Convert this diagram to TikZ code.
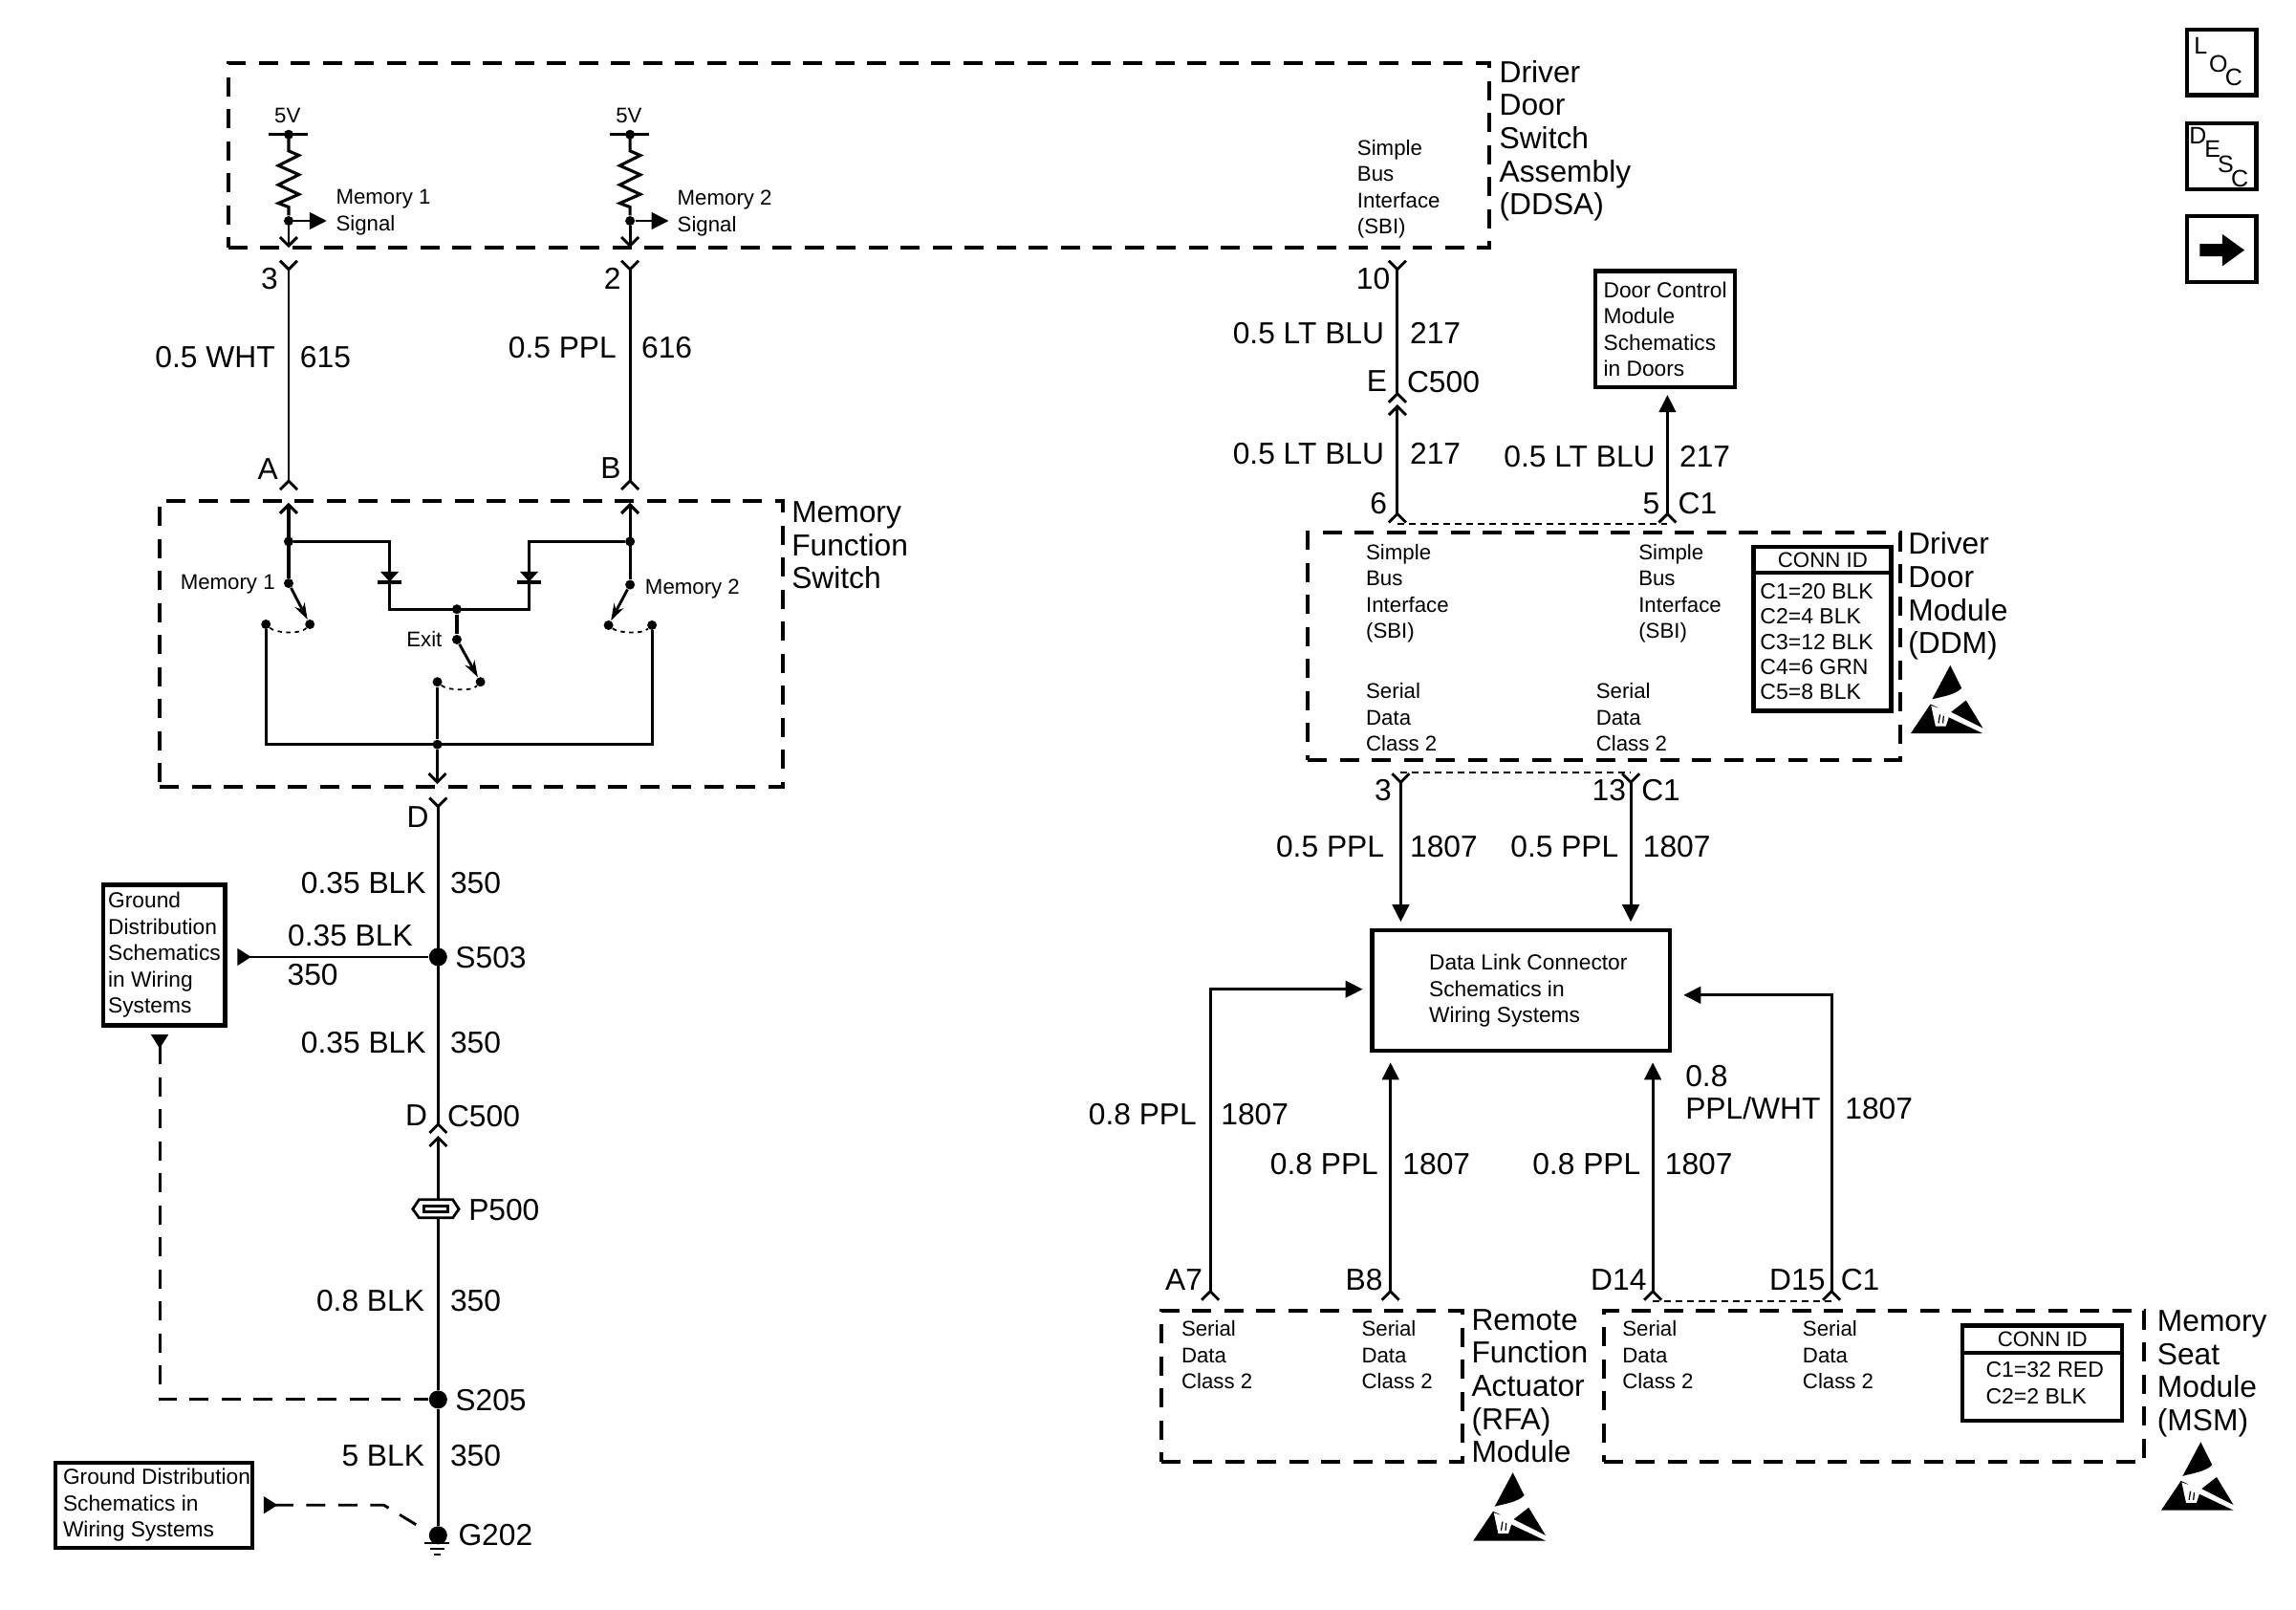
\documentclass[tikz,border=0pt]{standalone}
\usepackage{fontspec}
\setmainfont{Liberation Sans}
\usetikzlibrary{arrows.meta}
\newcommand{\ux}{0.6131pt}
\begin{document}
\begin{tikzpicture}[x=0.6131pt,y=-0.6131pt]
\tikzstyle{lien}=[line width=1.15pt,line join=miter]
\tikzstyle{gras}=[line width=1.25pt,line join=miter]
\tikzstyle{tirets}=[line width=1.15pt,dash pattern=on 8pt off 5.4pt]
\tikzstyle{fin}=[line width=0.7pt,dash pattern=on 2.8pt off 2pt]
\tikzstyle{pointille}=[line width=0.7pt,dash pattern=on 1.8pt off 1.8pt]
\tikzset{fourche/.tip={Straight Barb[reversed,length=3.6pt,width=7.2pt]},
tige/.tip={Straight Barb[length=3.6pt,width=7.2pt]},
plein/.tip={Triangle[length=7.2pt,width=7pt]},
plat/.tip={Triangle[reversed,length=5.8pt,width=7pt]},
zone/.style={draw,line width=1.6pt,dash pattern=on 8pt off 5.4pt,inner sep=0pt},
cadre/.style={draw,line width=1.7pt,inner sep=0pt},
boite/.style={cadre,align=left,font=\fontsize{9.1}{11}\selectfont},
bloc/.style={inner sep=0pt,anchor=north west,align=left,xshift=-1*\ux,yshift=1*\ux,font=\fontsize{12.7}{13.85}\selectfont},
petit/.style={inner sep=0pt,anchor=north west,align=left,xshift=-1*\ux,yshift=1*\ux,font=\fontsize{8.9}{11}\selectfont},
gch/.style={inner sep=0pt,text depth=0pt,anchor=east,yshift=0.7*\ux,font=\fontsize{12.7}{13.85}\selectfont},
drt/.style={inner sep=0pt,text depth=0pt,anchor=west,xshift=-1*\ux,yshift=0.7*\ux,font=\fontsize{12.7}{13.85}\selectfont},
pgch/.style={inner sep=0pt,text depth=0pt,anchor=east,font=\fontsize{8.9}{11}\selectfont},
pdrt/.style={inner sep=0pt,text depth=0pt,anchor=west,xshift=-1*\ux,font=\fontsize{8.9}{11}\selectfont},
lettre/.style={inner sep=0pt,font=\fontsize{10}{11}\selectfont},
point/.style={circle,fill=black,inner sep=0pt,minimum size=4pt},
epissure/.style={circle,fill=black,inner sep=0pt,minimum size=7.6pt},
esd/.pic={
\fill (27,-46.5) -- (34.8,-30.9) .. controls (30,-26) and (20,-25) .. (14.6,-23.3) -- cycle;
\fill (13.5,-20) -- (0,0) -- (49.3,0) -- (26,-11) -- (22,-14) -- (18,-18) -- cycle;
\fill (37.8,-22.6) -- (49.3,-3.7) -- (27.6,-14.6) -- cycle;
\fill[white] (14,-19) -- (17,-5) -- (24,-5) -- (26,-11) -- (20,-17) -- cycle;
\draw[line width=0.5pt] (19,-7) -- (20,-13) (22,-7) -- (22.5,-12);
}}

\useasboundingbox (0,0) rectangle (1567,1098.6);

\node[zone,minimum width=861*\ux,minimum height=126*\ux] (ddsa) at (586.2,106) {};
\node[zone,minimum width=425*\ux,minimum height=195*\ux] (mfs) at (321.5,439.2) {};
\node[zone,minimum width=404*\ux,minimum height=155*\ux] (ddm) at (1094.6,441) {};
\node[zone,minimum width=206*\ux,minimum height=103*\ux] (rfa) at (895.4,945.8) {};
\node[zone,minimum width=369*\ux,minimum height=103*\ux] (msm) at (1278.9,945.8) {};

\node[bloc] (tddsa) at (1024,42) {Driver\\Door\\Switch\\Assembly\\(DDSA)};
\node[bloc] (tmfs) at (541,343) {Memory\\Function\\Switch};
\node[bloc] (tddm) at (1303,364) {Driver\\Door\\Module\\(DDM)};
\node[bloc] (trfa) at (1005,894) {Remote\\Function\\Actuator\\(RFA)\\Module};
\node[bloc] (tmsm) at (1473,895) {Memory\\Seat\\Module\\(MSM)};

\pic at (1304,500.5) {esd};
\pic at (1005.5,1051.3) {esd};
\pic at (1475,1030.5) {esd};

\node[cadre,minimum width=47.5*\ux,minimum height=44.5*\ux] (loc) at (1516.2,42.7) {};
\node[cadre,minimum width=47.5*\ux,minimum height=45*\ux] (desc) at (1516.2,106.5) {};
\node[cadre,minimum width=47.5*\ux,minimum height=45*\ux] (suite) at (1516.2,170) {};
\node[lettre] (l1) at (1502,31) {L};
\node[lettre] (l2) at (1514,43.5) {O};
\node[lettre] (l3) at (1524.6,53) {C};
\node[lettre] (d1) at (1500,92.4) {D};
\node[lettre] (d2) at (1510,101.8) {E};
\node[lettre] (d3) at (1519,112) {S};
\node[lettre] (d4) at (1528.6,121.8) {C};
\fill (1501.4,166.4) -- (1516.6,166.4) -- (1516.6,159.7) -- (1531.8,170.7) -- (1516.6,181.7) -- (1516.6,175) -- (1501.4,175) -- cycle;

\node[boite,minimum width=95*\ux,minimum height=79*\ux] (dcm) at (1136.5,224.5) {Door Control\\Module\\Schematics\\in Doors};
\node[boite,minimum width=83*\ux,minimum height=96*\ux] (gd1) at (112.2,651.7) {Ground\\Distribution\\Schematics\\in Wiring\\Systems};
\node[cadre,minimum width=134*\ux,minimum height=58*\ux] (gd2) at (105,1027) {};
\node[boite,draw=none] (tgd2) at (107,1027) {Ground Distribution\\Schematics in\\Wiring Systems};
\node[cadre,minimum width=203*\ux,minimum height=82*\ux] (dlc) at (1038,676) {};
\node[boite,draw=none] (tdlc) at (1043,676) {Data Link Connector\\Schematics in\\Wiring Systems};

\node[cadre,minimum width=94*\ux,minimum height=112*\ux] (cddm) at (1243.7,429) {};
\draw[line width=1.7pt] (cddm.west |- 0,391) -- (cddm.east |- 0,391);
\node[pdrt,anchor=center,xshift=1*\ux] (iddm) at (1244,382) {CONN ID};
\node[petit,font=\fontsize{9.2}{10.5}\selectfont] (lddm) at (1202,399) {C1=20 BLK\\C2=4 BLK\\C3=12 BLK\\C4=6 GRN\\C5=8 BLK};
\node[cadre,minimum width=109*\ux,minimum height=65*\ux] (cmsm) at (1394,937) {};
\draw[line width=1.7pt] (cmsm.west |- 0,923) -- (cmsm.east |- 0,923);
\node[pdrt,anchor=center,xshift=1*\ux] (imsm) at (1394,914) {CONN ID};
\node[petit,font=\fontsize{9.2}{11}\selectfont] (lmsm) at (1356,930) {C1=32 RED\\C2=2 BLK};

\node[petit] (s1) at (927,96) {Simple\\Bus\\Interface\\(SBI)};
\node[petit] (s2) at (933,372) {Simple\\Bus\\Interface\\(SBI)};
\node[petit] (s3) at (1119,372) {Simple\\Bus\\Interface\\(SBI)};
\node[petit] (c1) at (933,467) {Serial\\Data\\Class 2};
\node[petit] (c2) at (1090,467) {Serial\\Data\\Class 2};
\node[petit] (c3) at (807,902) {Serial\\Data\\Class 2};
\node[petit] (c4) at (930,902) {Serial\\Data\\Class 2};
\node[petit] (c5) at (1108,902) {Serial\\Data\\Class 2};
\node[petit] (c6) at (1231,902) {Serial\\Data\\Class 2};

\node[pdrt] (v1) at (188,79) {5V};
\node[pdrt] (v2) at (421,79) {5V};
\node[pdrt] (m1) at (230,134) {Memory 1};
\node[pdrt] (g1) at (230,152) {Signal};
\node[pdrt] (m2) at (463,135) {Memory 2};
\node[pdrt] (g2) at (463,153) {Signal};

\coordinate (b1) at (197,91.8);
\coordinate (b2) at (430,91.8);
\draw[gras] (183,91.8) -- (210,91.8);
\draw[gras] (416,91.8) -- (443,91.8);
\node[point] (vd1) at (b1) {};
\node[point] (vd2) at (b2) {};
\node[point] (sd1) at (197,150.7) {};
\node[point] (sd2) at (430,150.7) {};
\draw[gras] (b1) -- (197,103) -- (204,106) -- (190,113) -- (204,119.2) -- (190,126.1) -- (204,132.6) -- (190,138.7) -- (197,141.3) -- (sd1);
\draw[gras] (b2) -- (430,103) -- (437,106) -- (423,113) -- (437,119.2) -- (423,126.1) -- (437,132.6) -- (423,138.7) -- (430,141.3) -- (sd2);
\coordinate (f1) at (223,150.7);
\coordinate (f2) at (456.4,150.7);
\coordinate (i3) at (197,169);
\coordinate (i2) at (430,169);
\draw[lien,-{plein}] (sd1) -- (f1);
\draw[lien,-{plein}] (sd2) -- (f2);
\draw[lien,-{tige}] (sd1) -- (i3);
\draw[lien,-{tige}] (sd2) -- (i2);

\coordinate (p3) at (197,177);
\coordinate (pa) at (197,335);
\coordinate (p2) at (430,177);
\coordinate (pb) at (430,335);
\draw[lien,{fourche}-{fourche}] (p3) -- (pa);
\draw[lien,{fourche}-{fourche}] (p2) -- (pb);
\node[gch] (n3) at (190,191) {3};
\node[gch] (n2) at (424,191) {2};
\node[gch] (w1) at (188,244) {0.5 WHT};
\node[drt] (w2) at (205.5,244) {615};
\node[gch] (w3) at (421,238) {0.5 PPL};
\node[drt] (w4) at (438.5,238) {616};
\node[gch] (na) at (190,321) {A};
\node[gch] (nb) at (424,320) {B};

\coordinate (ia) at (197,343);
\coordinate (ib) at (430,343);
\node[point] (ma) at (197,369.5) {};
\node[point] (mb) at (430,369.5) {};
\node[point] (sa) at (197,398) {};
\node[point] (sb) at (430,399) {};
\node[point] (ta) at (211.5,426) {};
\node[point] (tc) at (181.5,426) {};
\node[point] (tb) at (415.3,426.6) {};
\node[point] (td) at (445,426.6) {};
\node[point] (mx) at (311.8,415.7) {};
\node[point] (sx) at (311.8,436.4) {};
\node[point] (tx) at (327.9,465.3) {};
\node[point] (ty) at (298.5,465.3) {};
\node[point] (bus) at (298.5,508) {};
\coordinate (bl) at (181.5,508);
\coordinate (br) at (445,508);
\coordinate (dk1) at (265.9,415.7);
\coordinate (dk2) at (361.1,415.7);
\coordinate (dh1) at (265.9,369.5);
\coordinate (dh2) at (361.1,369.5);
\coordinate (id) at (298.5,535);
\draw[gras,-{tige}] (sa) -- (ia);
\draw[gras,-{tige}] (sb) -- (ib);
\draw[gras] (ma) -- (dh1) -- (dk1) -- (dk2) -- (dh2) -- (mb);
\fill (259.6,390) -- (272.2,390) -- (265.9,397) -- cycle;
\fill (354.8,390) -- (367.4,390) -- (361.1,397) -- cycle;
\draw[gras] (258,397.3) -- (273.8,397.3);
\draw[gras] (353.2,397.3) -- (369,397.3);
\draw[gras] (mx) -- (sx);
\draw[lien,-{Stealth[length=7pt,width=4.5pt]}] (sa) -- (ta);
\draw[lien,-{Stealth[length=7pt,width=4.5pt]}] (sb) -- (tb);
\draw[lien,-{Stealth[length=7pt,width=4.5pt]}] (sx) -- (tx);
\draw[pointille] (tc) .. controls (188,432) and (205,433) .. (ta);
\draw[pointille] (tb) .. controls (422,432) and (438,433) .. (td);
\draw[pointille] (ty) .. controls (305,471) and (322,472) .. (tx);
\draw[gras] (tc) -- (bl) -- (br) -- (td);
\draw[lien] (ty) -- (bus);
\draw[lien,-{tige}] (bus) -- (id);
\node[pgch] (t1) at (188,397) {Memory 1};
\node[pdrt] (t2) at (441,400.7) {Memory 2};
\node[pgch] (t3) at (302,436) {Exit};

\coordinate (pd) at (299,543.5);
\coordinate (pc) at (299,774);
\coordinate (ic) at (299,775);
\draw[lien,{fourche}-{fourche}] (pd) -- (pc);
\node[epissure] (s503) at (299,653) {};
\node[epissure] (s205) at (299,955) {};
\node[epissure] (g202) at (299,1047.6) {};
\draw[lien,-{tige}] (s205) -- (ic);
\draw[lien] (s205) -- (g202);
\draw[line width=1.1pt,fill=white] (286,818.6) -- (309,818.6) -- (313.2,825) -- (309,831) -- (286,831) -- (281.7,825) -- cycle;
\draw[line width=1.1pt] (289.5,823) rectangle (305.8,827);
\draw[line width=1.1pt] (289.5,1053) -- (306.5,1053);
\draw[line width=1pt] (293.5,1057) -- (303.5,1057);
\draw[line width=1pt] (296,1060.6) -- (301,1060.6);
\coordinate (e1) at (162,653);
\draw[lien,{plat}-] (e1) -- (s503);
\coordinate (e2) at (109,706);
\coordinate (e3) at (109,955);
\draw[tirets,{plat}-] (e2) -- (e3) -- (s205);
\coordinate (e4) at (180,1027);
\coordinate (e5) at (262,1027);
\coordinate (e6) at (285,1041);
\draw[tirets,{plat}-] (e4) -- (e5) -- (e6);

\node[gch] (nd) at (293,558) {D};
\node[gch] (w5) at (291,603) {0.35 BLK};
\node[drt] (w6) at (308,603) {350};
\node[gch] (w7) at (282,639) {0.35 BLK};
\node[gch] (w8) at (231,666) {350};
\node[drt] (n503) at (311.5,654) {S503};
\node[gch] (w9) at (291,712) {0.35 BLK};
\node[drt] (w10) at (308,712) {350};
\node[gch] (nd2) at (292,762) {D};
\node[drt] (n500) at (306,762) {C500};
\node[drt] (n5) at (320.5,826) {P500};
\node[gch] (w11) at (290,888) {0.8 BLK};
\node[drt] (w12) at (308,888) {350};
\node[drt] (n205) at (311.5,956) {S205};
\node[gch] (w13) at (290,994) {5 BLK};
\node[drt] (w14) at (308,994) {350};
\node[drt] (n202) at (313.5,1048) {G202};

\coordinate (p10) at (953.7,177);
\coordinate (pe) at (953.7,275.5);
\coordinate (ie) at (953.7,276);
\coordinate (p6) at (953.7,357.5);
\coordinate (ph) at (1138,269.5);
\coordinate (p5) at (1138,357.5);
\draw[lien,{fourche}-{fourche}] (p10) -- (pe);
\draw[lien,{tige}-{fourche}] (ie) -- (p6);
\draw[lien,{plein}-{fourche}] (ph) -- (p5);
\draw[fin] (p6) -- (p5);
\node[gch] (n10) at (949,191) {10};
\node[gch] (w15) at (945,228) {0.5 LT BLU};
\node[drt] (w16) at (963,228) {217};
\node[gch] (ne) at (947,261) {E};
\node[drt] (n5e) at (961,261) {C500};
\node[gch] (w17) at (945,310) {0.5 LT BLU};
\node[drt] (w18) at (963,310) {217};
\node[gch] (n6) at (947,344) {6};
\node[gch] (n55) at (1133,344) {5};
\node[drt] (c1a) at (1146,344) {C1};
\node[gch] (w19) at (1130,312) {0.5 LT BLU};
\node[drt] (w20) at (1147,312) {217};

\coordinate (p33) at (956,527);
\coordinate (p13) at (1113,527);
\coordinate (d3) at (956,629);
\coordinate (d13) at (1113,629);
\draw[lien,{fourche}-{plein}] (p33) -- (d3);
\draw[lien,{fourche}-{plein}] (p13) -- (d13);
\draw[fin] (p33) -- (p13);
\node[gch] (n33) at (950,540) {3};
\node[gch] (n13) at (1110,540) {13};
\node[drt] (c1b) at (1121,540) {C1};
\node[gch] (w21) at (945,578) {0.5 PPL};
\node[drt] (w22) at (963,578) {1807};
\node[gch] (w23) at (1105,578) {0.5 PPL};
\node[drt] (w24) at (1122,578) {1807};

\coordinate (pa7) at (826,888);
\coordinate (ca7) at (826,675);
\coordinate (da7) at (930,675);
\coordinate (pb8) at (949,888);
\coordinate (db8) at (949,725);
\coordinate (pd14) at (1128,888);
\coordinate (dd14) at (1128,725);
\coordinate (pd15) at (1250,888);
\coordinate (cd15) at (1250,679);
\coordinate (dd15) at (1149,679);
\draw[lien,{fourche}-{plein}] (pa7) -- (ca7) -- (da7);
\draw[lien,{fourche}-{plein}] (pb8) -- (db8);
\draw[lien,{fourche}-{plein}] (pd14) -- (dd14);
\draw[lien,{fourche}-{plein}] (pd15) -- (cd15) -- (dd15);
\draw[fin] (pd14) -- (pd15);
\node[gch] (w25) at (817,761) {0.8 PPL};
\node[drt] (w26) at (834,761) {1807};
\node[gch] (w27) at (941,795) {0.8 PPL};
\node[drt] (w28) at (958,795) {1807};
\node[gch] (w29) at (1120,795) {0.8 PPL};
\node[drt] (w30) at (1137,795) {1807};
\node[drt] (w31) at (1151,735) {0.8};
\node[drt] (w32) at (1151,757) {PPL/WHT};
\node[drt] (w33) at (1260,757) {1807};
\node[gch] (na7) at (821,874) {A7};
\node[gch] (nb8) at (944,874) {B8};
\node[gch] (nd14) at (1124,874) {D14};
\node[gch] (nd15) at (1246,874) {D15};
\node[drt] (c1c) at (1257,874) {C1};
\end{tikzpicture}
\end{document}
